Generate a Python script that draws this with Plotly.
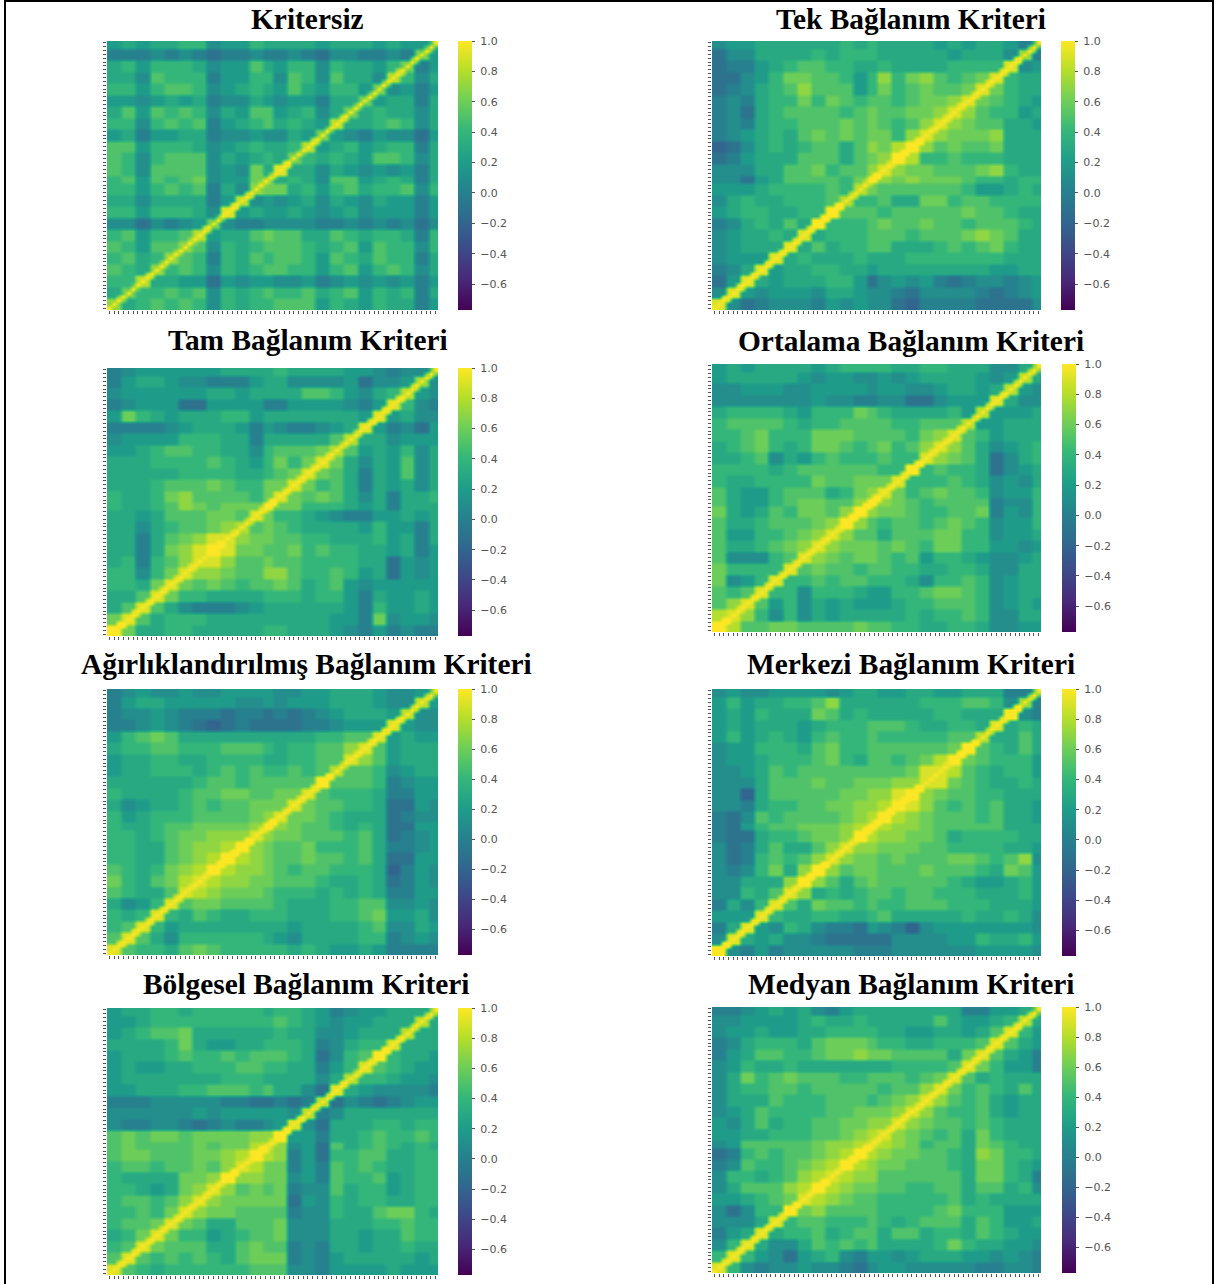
import numpy as np
import plotly.graph_objects as go

W, H = 1214, 1284
N, F = 24, 70

# Each list reads the picture from the top row down, left edge to the diagonal, in tenths.
kritersiz = [
[2,3,2,3,3,4,4,1,2,2,4,3,3,3,3,2,3,3,3,2,3,2,2,5],
[0,0,0,1,0,1,0,-1,0,0,1,0,0,1,0,-1,1,1,0,0,1,0,6],
[3,4,2,4,4,4,3,1,2,2,5,3,2,4,4,1,4,3,3,2,4,6],
[3,3,1,5,4,4,4,0,2,2,4,4,1,5,4,1,5,3,3,1,8],
[4,4,2,4,5,5,4,1,2,3,4,3,2,5,3,2,4,4,2,6],
[2,2,1,2,3,2,3,0,1,1,3,2,1,2,2,0,3,3,6],
[3,5,2,5,4,5,4,1,3,2,5,5,2,3,4,1,3,6],
[4,4,1,4,5,4,5,0,2,3,4,5,3,4,3,2,8],
[2,3,0,2,2,3,3,0,1,1,2,1,1,3,2,6],
[5,5,2,4,4,4,3,1,2,3,4,3,3,4,8],
[5,4,1,4,5,5,5,1,3,2,3,4,3,6],
[5,4,1,5,5,5,5,1,2,1,6,3,9],
[4,5,2,5,4,5,6,1,2,2,6,7],
[4,4,2,4,5,4,5,0,3,1,7],
[3,3,1,3,3,3,3,0,2,8],
[4,4,2,4,4,4,3,1,9],
[1,1,-1,1,0,1,2,6],
[4,5,2,4,4,5,8],
[5,4,2,5,5,7],
[4,5,3,4,7],
[5,4,3,7],
[4,4,8],
[3,6],
[7],
]
tek = [
[1,2,2,3,3,3,3,3,3,4,3,4,3,3,3,3,2,3,2,3,3,2,0,5],
[-1,1,1,3,3,3,3,4,3,4,4,4,3,3,3,3,3,2,3,3,3,1,7],
[-1,0,0,2,3,4,5,5,4,4,3,3,4,3,3,3,3,4,4,4,4,9],
[-1,-1,1,2,4,6,6,5,5,4,2,4,7,4,6,7,5,4,5,6,9],
[-1,0,1,3,4,5,7,5,5,5,2,4,6,4,5,6,5,5,6,9],
[0,1,0,3,4,4,6,4,6,5,4,5,5,4,5,6,6,7,9],
[0,1,-1,3,4,5,5,5,5,4,5,6,5,5,6,6,7,9],
[0,1,0,3,4,4,5,5,5,6,5,6,5,4,5,7,9],
[0,1,2,3,4,3,5,6,5,6,5,6,6,4,7,9],
[-2,-1,1,3,4,3,4,5,5,3,5,7,6,8,10],
[-1,0,2,3,3,3,5,5,5,3,5,6,7,10],
[1,1,1,3,3,5,5,6,4,5,5,7,9],
[1,1,-1,2,3,5,5,5,5,4,6,10],
[2,2,2,3,4,4,4,4,5,4,8],
[1,3,4,3,3,4,4,4,5,8],
[2,3,4,4,3,3,4,4,10],
[0,1,3,4,3,5,3,10],
[1,2,3,3,4,3,9],
[1,2,3,3,3,9],
[1,2,2,2,9],
[0,1,3,9],
[-1,2,9],
[1,9],
[9],
]
tam = [
[0,1,2,2,2,2,2,2,3,3,3,3,4,3,3,3,3,2,2,1,0,1,1,6],
[0,2,3,3,2,1,1,0,0,0,2,3,3,1,1,1,1,2,-1,1,1,2,7],
[1,2,2,2,2,2,2,3,3,2,3,3,3,3,5,5,4,2,1,3,4,8],
[0,1,2,2,2,-1,-1,2,2,2,2,0,0,2,2,2,2,1,0,2,9],
[2,6,4,3,2,3,3,3,4,4,2,3,3,3,3,3,3,3,2,9],
[0,0,0,0,1,2,3,3,3,2,0,2,1,0,0,1,2,3,9],
[1,2,2,2,2,4,4,4,3,3,0,3,3,3,3,3,5,8],
[2,2,3,4,5,5,4,4,3,3,1,4,5,5,5,6,8],
[3,3,3,4,4,4,4,5,4,3,2,4,6,4,6,9],
[3,3,3,3,3,4,4,4,4,3,3,4,5,6,9],
[3,3,3,4,5,5,5,6,5,4,4,6,6,9],
[4,3,3,4,6,7,5,5,5,5,4,6,9],
[4,3,3,4,5,7,6,5,6,6,6,10],
[3,3,2,3,5,5,5,6,6,5,9],
[3,3,1,3,4,5,5,6,7,8],
[3,3,0,3,5,6,7,9,9],
[3,3,0,3,6,7,9,10],
[3,4,0,4,5,7,9],
[4,4,1,4,6,9],
[4,4,3,6,9],
[3,3,5,9],
[3,5,9],
[6,9],
[10],
]
ortalama = [
[2,3,2,3,3,3,3,2,3,4,4,4,4,3,3,4,4,3,3,3,1,1,3,7],
[2,3,3,3,3,3,2,1,2,2,1,1,2,1,2,3,3,3,3,2,1,2,8],
[1,1,2,2,2,1,1,2,2,2,2,1,2,2,1,1,2,3,3,2,3,8],
[1,1,1,1,1,1,1,2,1,1,0,0,1,1,-1,-1,1,2,2,2,9],
[3,4,4,4,4,3,2,4,4,4,6,5,4,3,3,3,3,4,2,8],
[4,5,5,5,5,4,3,4,4,5,5,5,5,4,4,5,5,5,8],
[4,4,5,6,4,4,4,6,6,6,5,5,5,5,4,6,7,9],
[3,4,5,6,4,3,4,6,6,5,4,5,6,4,5,7,9],
[3,3,4,5,1,3,2,4,5,4,4,4,5,4,4,9],
[4,4,4,4,3,4,5,5,5,5,5,5,4,4,10],
[4,3,3,4,4,4,4,6,5,5,6,6,6,9],
[5,3,2,2,4,5,5,5,3,4,6,7,9],
[5,3,2,2,4,5,6,6,5,5,7,10],
[6,3,2,3,5,4,6,6,5,7,10],
[5,3,3,4,5,5,5,6,7,10],
[5,2,2,4,4,5,6,7,9],
[5,3,3,4,5,6,7,9],
[5,1,1,1,4,5,9],
[6,4,4,4,4,9],
[6,1,2,4,9],
[5,4,5,9],
[5,7,9],
[8,9],
[10],
]
agirlikli = [
[0,1,2,1,1,2,1,1,2,2,2,2,1,1,2,2,3,3,3,2,1,1,2,6],
[0,2,3,3,2,2,2,2,2,1,1,2,1,2,2,2,3,3,3,2,1,1,8],
[0,1,1,2,1,0,0,0,-1,0,0,-1,0,-1,0,1,2,3,3,3,2,8],
[0,0,1,2,1,0,-1,-2,-1,0,-1,-1,-1,-1,0,0,1,2,2,2,9],
[2,4,5,6,5,3,3,3,3,3,3,3,3,3,3,4,4,5,5,9],
[3,4,4,5,5,4,4,4,5,5,5,4,3,4,4,5,5,7,9],
[2,3,3,4,4,3,3,4,4,4,4,3,3,4,4,5,5,9],
[2,3,3,4,4,4,3,4,5,4,5,4,4,5,4,5,8],
[3,3,3,3,3,3,4,5,5,4,5,5,5,5,5,10],
[4,3,3,3,3,4,5,5,6,6,5,5,6,6,9],
[3,1,2,3,3,4,5,4,5,5,6,6,6,9],
[4,2,3,4,4,4,5,5,5,5,6,7,9],
[4,3,3,4,5,5,6,6,6,6,7,10],
[4,4,3,4,5,6,6,7,7,7,9],
[4,4,3,3,5,6,7,7,8,10],
[4,4,3,3,5,6,7,8,10],
[5,4,3,4,6,7,8,10],
[6,4,3,5,6,8,9],
[5,4,3,3,5,9],
[3,1,2,4,9],
[4,3,4,9],
[4,5,9],
[5,9],
[9],
]
merkezi = [
[1,2,1,1,2,2,2,2,1,2,3,3,2,2,3,3,2,2,3,3,3,0,0,6],
[2,4,2,3,3,4,4,5,7,3,3,3,3,3,3,4,4,4,5,5,4,1,7],
[2,3,2,4,3,3,3,6,5,3,4,3,3,3,3,3,4,4,3,3,3,10],
[2,3,2,3,3,3,2,3,4,4,4,5,5,5,4,3,3,4,4,3,9],
[2,4,2,3,4,3,2,4,5,4,4,5,4,4,4,4,4,5,5,8],
[1,2,2,4,4,4,3,5,6,4,4,5,5,5,5,5,5,6,10],
[1,2,2,3,4,4,4,5,6,4,3,5,5,4,5,6,8,10],
[1,1,2,3,5,4,5,5,5,5,5,5,5,5,6,9,9],
[1,1,1,3,5,5,5,6,5,5,6,6,6,7,7,9],
[1,1,-2,3,5,5,5,5,5,6,6,7,7,9,10],
[1,1,0,3,4,4,5,5,6,6,7,7,8,10],
[0,-1,1,5,4,5,5,5,5,6,7,8,10],
[0,-1,2,4,5,5,6,6,6,7,8,10],
[0,-1,-1,3,4,4,5,6,6,7,10],
[1,-1,0,3,5,3,3,5,7,9],
[1,-1,0,4,5,4,5,7,9],
[1,0,1,4,6,3,7,10],
[1,1,3,3,3,7,10],
[1,1,4,3,5,9],
[0,3,1,4,9],
[2,2,2,9],
[0,3,9],
[1,9],
[10],
]
bolgesel = [
[2,3,3,4,4,3,4,4,4,4,4,3,4,4,3,2,0,1,2,2,3,3,3,7],
[2,2,3,4,4,4,4,4,4,4,4,4,5,4,3,2,1,2,2,3,3,3,8],
[2,3,4,5,5,6,3,3,3,3,3,3,4,3,3,1,1,2,3,3,3,8],
[3,3,3,3,4,6,3,2,2,3,3,4,4,4,3,0,1,3,4,4,9],
[2,3,3,3,4,5,4,4,5,4,5,5,5,4,3,-1,1,4,5,10],
[2,3,2,2,3,3,4,4,4,5,5,4,4,3,3,0,2,4,9],
[2,3,3,3,3,3,3,3,4,4,4,3,3,3,3,1,3,8],
[2,2,3,3,3,4,4,5,5,5,4,5,3,3,1,-1,9],
[0,0,0,1,1,1,1,1,0,0,-1,-1,0,-1,0,8],
[1,1,1,1,1,1,2,1,2,2,2,2,2,1,8],
[1,0,0,1,1,0,-1,0,1,0,0,1,2,9],
[5,6,5,6,6,5,6,6,6,6,7,7,10],
[5,6,5,5,5,5,6,5,6,6,8,9],
[5,6,6,5,5,5,6,6,7,8,10],
[4,5,5,4,5,5,6,5,7,9],
[4,3,3,3,3,6,6,7,10],
[4,4,3,2,3,6,7,9],
[4,5,5,4,5,7,9],
[4,4,5,4,6,9],
[4,5,5,6,9],
[3,4,6,9],
[4,5,9],
[5,9],
[9],
]
medyan = [
[0,0,1,2,3,2,3,1,0,2,3,3,3,3,3,3,3,3,0,0,2,2,3,6],
[1,1,2,2,2,2,3,4,3,3,4,3,3,3,3,3,5,3,2,2,3,4,8],
[1,2,2,3,2,2,3,3,4,4,4,4,3,3,2,2,3,3,2,3,5,9],
[0,1,3,4,4,4,3,5,6,6,6,5,4,4,3,3,4,4,4,5,9],
[0,2,3,5,5,4,4,5,6,6,7,6,6,5,5,5,5,3,6,9],
[1,2,4,3,3,4,3,3,3,3,3,3,3,4,4,4,4,5,9],
[1,3,6,4,5,6,5,5,5,4,4,5,5,5,4,5,6,9],
[1,3,4,4,5,5,4,5,5,5,5,5,4,5,5,7,9],
[1,3,3,3,5,4,4,4,5,5,5,4,5,6,7,9],
[1,2,3,5,4,4,4,4,5,5,6,6,6,7,9],
[2,1,3,5,3,4,4,5,5,6,6,7,7,9],
[2,2,3,3,4,4,4,5,5,6,7,8,9],
[1,2,5,5,5,5,5,6,7,7,8,9],
[-1,0,4,5,4,5,5,6,7,8,10],
[0,1,5,4,4,5,6,7,8,10],
[1,4,4,3,4,5,7,8,9],
[1,3,5,5,5,7,8,10],
[2,2,3,4,5,6,9],
[1,-1,1,4,4,10],
[1,1,1,3,9],
[0,2,3,9],
[1,4,9],
[4,9],
[9],
]

titles = ["Kritersiz", "Tek Bağlanım Kriteri", "Tam Bağlanım Kriteri", "Ortalama Bağlanım Kriteri",
          "Ağırlıklandırılmış Bağlanım Kriteri", "Merkezi Bağlanım Kriteri",
          "Bölgesel Bağlanım Kriteri", "Medyan Bağlanım Kriteri"]
matrices = [kritersiz, tek, tam, ortalama, agirlikli, merkezi, bolgesel, medyan]
cbar_ticks = [-0.6, -0.4, -0.2, 0.0, 0.2, 0.4, 0.6, 0.8, 1.0]
Z_MIN, Z_MAX = -0.77, 1.0

# left, right, top, bottom, colour bar left (pixels), title centre, title baseline
boxes = [
    (107, 438, 41, 310, 458, 307, 30),
    (712, 1041, 41, 310, 1061, 911, 30),
    (107, 438, 368, 636, 458, 308, 351),
    (712, 1041, 364, 632, 1062, 911, 352),
    (107, 438, 689, 955, 458, 306, 675),
    (712, 1041, 689, 956, 1062, 911, 675),
    (107, 438, 1008, 1275, 458, 306, 995),
    (712, 1041, 1007, 1273, 1062, 911, 995),
]


def full_matrix(rows):
    c = np.full((N, N), 0.3)
    for r, row in enumerate(rows):
        i = N - 1 - r
        for k, v in enumerate(row):
            c[i, k] = c[k, i] = v / 10
    idx = (np.arange(F) * N / F).astype(int)
    z = c[np.ix_(idx, idx)]
    for i in range(F - 1):
        z[i, i + 1] = z[i + 1, i] = c[idx[i], idx[i]]
    z[np.arange(F), np.arange(F)] = 1.0
    return z


fig = go.Figure()
annotations = []
for n, (rows, title, box) in enumerate(zip(matrices, titles, boxes), start=1):
    x0, x1, y0, y1, cbx, tx, ty = box
    fig.add_trace(go.Heatmap(
        z=full_matrix(rows), zmin=Z_MIN, zmax=Z_MAX, colorscale="Viridis", zsmooth="best",
        xaxis=f"x{n}", yaxis=f"y{n}", hoverinfo="skip",
        colorbar=dict(
            x=cbx / W, xanchor="left", xpad=0, y=1 - y0 / H, yanchor="top", ypad=0,
            lenmode="pixels", len=y1 - y0, thicknessmode="pixels", thickness=14,
            outlinewidth=0, tickmode="array", tickvals=cbar_ticks,
            ticktext=["\u00a0" + f"{v:.1f}".replace("-", "−") for v in cbar_ticks],
            ticks="outside", ticklen=3, tickcolor="#555", tickwidth=1,
            tickfont=dict(family="DejaVu Sans", size=11, color="#555"),
        ),
    ))
    ax = dict(range=[-0.5, F - 0.5], tick0=0, dtick=1, ticks="outside", ticklen=3, tickcolor="#555",
              tickwidth=1, showticklabels=False, showgrid=False, zeroline=False, showline=False)
    fig.update_layout({
        f"xaxis{n}": dict(ax, domain=[x0 / W, x1 / W], anchor=f"y{n}"),
        f"yaxis{n}": dict(ax, domain=[1 - y1 / H, 1 - y0 / H], anchor=f"x{n}"),
    })
    annotations.append(dict(
        text=f"<b>{title}</b>", xref="paper", yref="paper", x=tx / W, y=1 - (ty + 7) / H,
        xanchor="center", yanchor="bottom", showarrow=False,
        font=dict(family="Liberation Serif", size=29.4, color="black"),
    ))

frame = [
    dict(type="rect", xref="paper", yref="paper", x0=4 / W, x1=6 / W, y0=0, y1=1, fillcolor="black", line_width=0),
    dict(type="rect", xref="paper", yref="paper", x0=1212 / W, x1=1, y0=0, y1=1, fillcolor="black", line_width=0),
    dict(type="rect", xref="paper", yref="paper", x0=4 / W, x1=1, y0=1 - 2 / H, y1=1, fillcolor="black", line_width=0),
]
fig.update_layout(width=W, height=H, margin=dict(l=0, r=0, t=0, b=0), paper_bgcolor="white",
                  plot_bgcolor="white", annotations=annotations, shapes=frame, showlegend=False)
fig.write_html("out.html", post_script="document.body.style.margin='0';", config={"displayModeBar": False})
